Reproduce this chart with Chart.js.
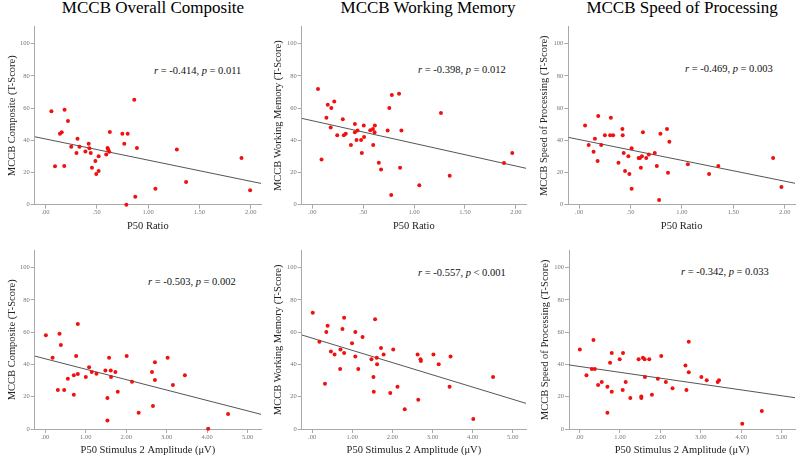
<!DOCTYPE html>
<html>
<head>
<meta charset="utf-8">
<script src="https://cdn.jsdelivr.net/npm/chart.js@4.4.0/dist/chart.umd.min.js"></script>
<style>
  body { margin: 0; background: #fff; width: 800px; height: 461px; position: relative; overflow: hidden;
         font-family: "Liberation Serif", "Times New Roman", serif; }
  canvas { position: absolute; }
  .title { position: absolute; font-size: 17px; line-height: 17px; white-space: nowrap; transform: translateX(-50%); color: #000; }
  .stat { position: absolute; font-size: 10.5px; line-height: 12px; white-space: nowrap; color: #111; }
</style>
</head>
<body>
<div class="title" style="left:153px;top:-1px">MCCB Overall Composite</div>
<div class="title" style="left:428px;top:-1px">MCCB Working Memory</div>
<div class="title" style="left:682px;top:-1px">MCCB Speed of Processing</div>

<div class="stat" style="left:154px;top:64.7px"><i>r</i> = -0.414, <i>p</i> = 0.011</div>
<div class="stat" style="left:418px;top:64px"><i>r</i> = -0.398, <i>p</i> = 0.012</div>
<div class="stat" style="left:685px;top:63.3px"><i>r</i> = -0.469, <i>p</i> = 0.003</div>
<div class="stat" style="left:148px;top:276.3px"><i>r</i> = -0.503, <i>p</i> = 0.002</div>
<div class="stat" style="left:418px;top:267.3px"><i>r</i> = -0.557, <i>p</i> &lt; 0.001</div>
<div class="stat" style="left:681px;top:266.3px"><i>r</i> = -0.342, <i>p</i> = 0.033</div>

<script>
// --- AXIS TICKS ---
const ratioTicks = [0, 0.5, 1, 1.5, 2];
const ratioTickLabels = [".00", ".50", "1.00", "1.50", "2.00"];
const ampTicks = [0, 1, 2, 3, 4, 5];
const ampTickLabels = [".00", "1.00", "2.00", "3.00", "4.00", "5.00"];
const scoreTicks = [0, 20, 40, 60, 80, 100];

// --- P50 RATIO (top row) ---
const compRatioX = [0.058, 0.093, 0.141, 0.158, 0.183, 0.186, 0.219, 0.251, 0.302, 0.312, 0.331, 0.389, 0.421,
  0.428, 0.441, 0.453, 0.486, 0.495, 0.518, 0.518, 0.592, 0.605, 0.611, 0.621, 0.627, 0.749, 0.768, 0.788,
  0.801, 0.865, 0.875, 0.891, 1.071, 1.280, 1.370, 1.910, 1.994];
const compRatioY = [58.0, 23.8, 44.1, 44.9, 24.0, 59.0, 52.0, 36.0, 32.1, 41.0, 36.0, 33.1, 37.9,
  35.0, 32.1, 23.0, 27.1, 19.0, 20.9, 30.0, 31.1, 35.2, 34.2, 32.9, 45.1, 44.1, 37.9, 0.0,
  44.1, 65.2, 5.0, 35.2, 9.9, 34.2, 14.1, 29.0, 8.9];

const wmRatioX = [0.055, 0.090, 0.138, 0.151, 0.180, 0.186, 0.215, 0.244, 0.299, 0.309, 0.328, 0.379, 0.418,
  0.418, 0.434, 0.444, 0.479, 0.486, 0.505, 0.508, 0.569, 0.595, 0.598, 0.611, 0.614, 0.653, 0.675, 0.740,
  0.756, 0.775, 0.781, 0.852, 0.862, 0.875, 1.051, 1.264, 1.350, 1.884, 1.965];
const wmRatioY = [71.8, 28.0, 54.0, 62.1, 48.0, 60.0, 64.0, 43.1, 53.0, 43.1, 44.1, 37.1, 50.1,
  44.9, 40.2, 46.0, 40.2, 32.1, 49.1, 42.0, 46.2, 47.0, 37.1, 44.9, 49.1, 26.1, 21.9, 46.0,
  60.0, 6.0, 68.1, 68.9, 23.0, 46.0, 12.0, 56.9, 18.0, 25.9, 32.1];

const spRatioX = [0.058, 0.093, 0.141, 0.154, 0.180, 0.186, 0.215, 0.251, 0.302, 0.309, 0.331, 0.383, 0.421,
  0.424, 0.434, 0.447, 0.479, 0.489, 0.511, 0.511, 0.579, 0.592, 0.601, 0.611, 0.621, 0.653, 0.678, 0.736,
  0.756, 0.778, 0.791, 0.855, 0.865, 0.878, 1.058, 1.264, 1.354, 1.887, 1.968];
const spRatioY = [49.1, 37.1, 32.9, 41.0, 27.1, 55.1, 37.1, 43.1, 43.1, 54.0, 43.1, 26.1, 47.0,
  43.1, 32.1, 20.9, 30.0, 19.0, 35.0, 9.9, 29.0, 29.0, 23.0, 30.0, 44.9, 29.0, 31.1, 32.1,
  24.0, 2.9, 44.1, 47.0, 19.9, 39.1, 25.1, 19.0, 24.0, 29.0, 11.0];

// --- P50 STIMULUS 2 AMPLITUDE (bottom row) ---
const compAmpX = [0.016, 0.181, 0.312, 0.353, 0.386, 0.468, 0.559, 0.706, 0.706, 0.764, 0.805, 0.805, 1.002,
  1.084, 1.150, 1.265, 1.487, 1.536, 1.536, 1.577, 1.618, 1.626, 1.733, 1.791, 2.012, 2.144, 2.308, 2.637,
  2.661, 2.710, 2.710, 3.023, 3.154, 3.450, 4.025, 4.517];
const compAmpY = [58.1, 44.2, 24.2, 59.1, 52.1, 24.2, 31.2, 33.3, 21.3, 45.2, 34.1, 65.1, 32.2,
  38.2, 35.3, 34.3, 36.2, 19.2, 5.2, 44.2, 36.2, 32.2, 35.3, 23.1, 45.2, 29.3, 10.1, 35.3,
  14.3, 41.3, 30.4, 44.2, 27.3, 33.3, 0.2, 9.3];

const wmAmpX = [0.016, 0.181, 0.320, 0.353, 0.386, 0.468, 0.559, 0.698, 0.706, 0.756, 0.797, 0.797, 0.994,
  1.076, 1.076, 1.150, 1.257, 1.478, 1.528, 1.536, 1.569, 1.610, 1.618, 1.717, 1.782, 1.947, 2.021, 2.127,
  2.308, 2.628, 2.645, 2.702, 2.710, 3.023, 3.154, 3.425, 3.450, 4.016, 4.509];
const wmAmpY = [72.1, 54.1, 28.1, 60.1, 64.0, 48.1, 46.1, 37.2, 49.2, 62.0, 69.0, 47.1, 53.1,
  60.1, 45.0, 37.2, 57.0, 43.2, 32.2, 23.1, 68.0, 44.2, 40.1, 50.2, 46.1, 22.3, 49.2, 26.2,
  12.2, 46.1, 18.2, 43.2, 42.1, 46.1, 40.1, 26.2, 45.0, 6.2, 32.2];

const spAmpX = [0.008, 0.172, 0.304, 0.345, 0.378, 0.460, 0.550, 0.690, 0.690, 0.756, 0.797, 0.797, 0.994,
  1.068, 1.076, 1.142, 1.257, 1.462, 1.528, 1.528, 1.569, 1.610, 1.618, 1.725, 1.791, 1.938, 2.021, 2.136,
  2.300, 2.620, 2.645, 2.702, 2.702, 3.014, 3.146, 3.417, 3.450, 4.025, 4.509];
const spAmpY = [49.2, 33.3, 37.2, 55.2, 37.2, 27.3, 29.1, 26.2, 10.1, 41.1, 47.1, 23.1, 43.2,
  24.2, 47.1, 29.1, 19.2, 43.2, 19.2, 20.2, 44.2, 43.2, 32.2, 43.2, 21.3, 31.2, 45.2, 29.1,
  25.2, 39.3, 24.2, 54.1, 35.1, 32.2, 30.2, 29.1, 30.2, 3.3, 11.2];

// fit line end points, read at the left and right edge of each plot
const ratioFitX = [-0.105, 2.1];
const compRatioFitY = [42.2, 13.2];
const wmRatioFitY = [53.6, 22.6];
const spRatioFitY = [41.8, 13.3];
const ampFitX = [-0.26, 5.33];
const compAmpFitY = [45.2, 9.1];
const wmAmpFitY = [58.3, 15.9];
const spAmpFitY = [39.7, 19.4];

// box: [left, top, width, height] of the canvas, pad: [left, top, right, bottom]
const panels = [
  { x: compRatioX, y: compRatioY, fitX: ratioFitX, fitY: compRatioFitY, ticks: ratioTicks, labels: ratioTickLabels,
    xTitle: "P50 Ratio", yTitle: "MCCB Composite (T-Score)", box: [0, 0, 265, 240], pad: [6.4, 26.7, 1.7, 7], yW: 28.3, xH: 28.3 },
  { x: wmRatioX, y: wmRatioY, fitX: ratioFitX, fitY: wmRatioFitY, ticks: ratioTicks, labels: ratioTickLabels,
    xTitle: "P50 Ratio", yTitle: "MCCB Working Memory (T-Score)", box: [265, 0, 265, 240], pad: [7, 26.7, 1.7, 7], yW: 29.7, xH: 28.3 },
  { x: spRatioX, y: spRatioY, fitX: ratioFitX, fitY: spRatioFitY, ticks: ratioTicks, labels: ratioTickLabels,
    xTitle: "P50 Ratio", yTitle: "MCCB Speed of Processing (T-Score)", box: [530, 0, 270, 240], pad: [7.7, 26.7, 5, 7], yW: 30.6, xH: 28.3 },
  { x: compAmpX, y: compAmpY, fitX: ampFitX, fitY: compAmpFitY, ticks: ampTicks, labels: ampTickLabels,
    xTitle: "P50 Stimulus 2 Amplitude (\u03bcV)", yTitle: "MCCB Composite (T-Score)", box: [0, 228, 265, 233], pad: [6.4, 22.7, 3.3, 4.7], yW: 28.3, xH: 27.3 },
  { x: wmAmpX, y: wmAmpY, fitX: ampFitX, fitY: wmAmpFitY, ticks: ampTicks, labels: ampTickLabels,
    xTitle: "P50 Stimulus 2 Amplitude (\u03bcV)", yTitle: "MCCB Working Memory (T-Score)", box: [265, 228, 265, 233], pad: [7, 22.7, 1.7, 4.7], yW: 29.7, xH: 27.3 },
  { x: spAmpX, y: spAmpY, fitX: ampFitX, fitY: spAmpFitY, ticks: ampTicks, labels: ampTickLabels,
    xTitle: "P50 Stimulus 2 Amplitude (\u03bcV)", yTitle: "MCCB Speed of Processing (T-Score)", box: [530, 228, 270, 233], pad: [8.7, 22.7, 5, 4.7], yW: 30.3, xH: 27.3 }
];

const tickFont = { family: "Liberation Serif", size: 6.5 };
const axisTitleFont = { family: "Liberation Serif", size: 10.5 };
const axisColor = "#aaaaaa";

function toPoints(xs, ys) {
  return xs.map((x, i) => ({ x: x, y: ys[i] }));
}

function makePanel(p) {
  const cv = document.createElement("canvas");
  cv.width = p.box[2];
  cv.height = p.box[3];
  cv.style.left = p.box[0] + "px";
  cv.style.top = p.box[1] + "px";
  document.body.appendChild(cv);

  new Chart(cv, {
    type: "scatter",
    data: {
      datasets: [
        { data: toPoints(p.x, p.y), backgroundColor: "#f01010", borderWidth: 0, pointRadius: 2, clip: false },
        { data: toPoints(p.fitX, p.fitY), showLine: true, borderColor: "#555555", borderWidth: 1, pointRadius: 0 }
      ]
    },
    options: {
      responsive: false,
      animation: false,
      devicePixelRatio: 1,
      layout: { padding: { left: p.pad[0], top: p.pad[1], right: p.pad[2], bottom: p.pad[3] } },
      plugins: { legend: { display: false }, tooltip: { enabled: false } },
      scales: {
        x: {
          type: "linear",
          min: p.fitX[0],
          max: p.fitX[1],
          afterBuildTicks: s => { s.ticks = p.ticks.map(v => ({ value: v })); },
          afterFit: s => { s.height = p.xH; },
          ticks: { callback: (v, i) => p.labels[i], font: tickFont, color: "#777", padding: 0, maxRotation: 0, autoSkip: false },
          grid: { drawOnChartArea: false, tickLength: 4, color: axisColor },
          border: { color: axisColor },
          title: { display: true, text: p.xTitle, font: axisTitleFont, color: "#222", padding: 0 }
        },
        y: {
          min: 0,
          max: 110.5,
          afterBuildTicks: s => { s.ticks = scoreTicks.map(v => ({ value: v })); },
          afterFit: s => { s.width = p.yW; },
          ticks: { callback: v => String(v), font: tickFont, color: "#777", padding: 1 },
          grid: { drawOnChartArea: false, tickLength: 4, color: axisColor },
          border: { color: axisColor },
          title: { display: true, text: p.yTitle, font: axisTitleFont, color: "#222", padding: 0 }
        }
      }
    }
  });
}

panels.forEach(makePanel);
</script>
</body>
</html>
